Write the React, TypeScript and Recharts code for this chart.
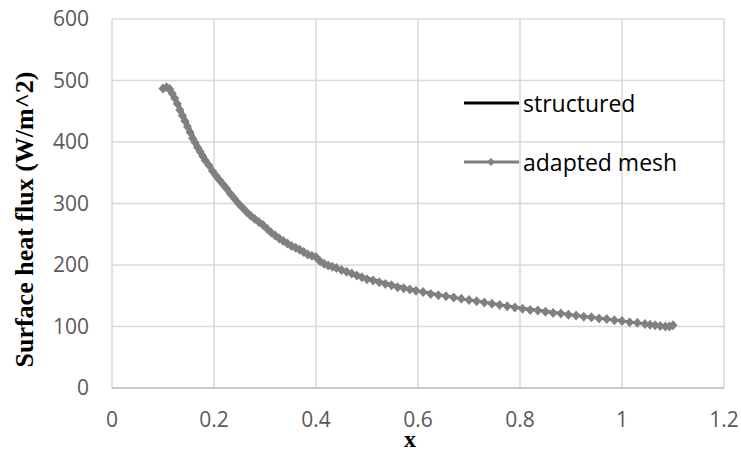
import { LineChart, Line, XAxis, YAxis, CartesianGrid } from 'recharts';

// surface heat flux along the wall, two meshes
const structuredX = [0.1, 0.11, 0.12, 0.13, 0.14, 0.15, 0.16, 0.17, 0.18, 0.19, 0.2, 0.22, 0.24, 0.26, 0.28, 0.3, 0.32, 0.34, 0.36, 0.38, 0.4, 0.42, 0.45, 0.5, 0.55, 0.6, 0.65, 0.7, 0.75, 0.8, 0.85, 0.9, 0.95, 1.0, 1.05, 1.1];
const structuredFlux = [487, 487, 479, 463, 445, 427, 409, 393, 379, 365, 352, 331, 309, 290, 275, 262, 248, 237, 227, 218, 210, 202, 192, 179, 168, 158, 150, 143, 137, 130, 125, 119, 114, 109, 104, 100];

const adaptedX = [
  0.1, 0.107, 0.113, 0.118, 0.123, 0.128, 0.133, 0.138, 0.143, 0.148, 0.153, 0.158, 0.163, 0.168, 0.173, 0.178, 0.183, 0.19, 0.197,
  0.204, 0.211, 0.218, 0.225, 0.232, 0.24, 0.248, 0.256, 0.264, 0.272, 0.28, 0.288, 0.296, 0.304, 0.312, 0.32, 0.328, 0.336, 0.344,
  0.352, 0.36, 0.368, 0.376, 0.384, 0.392, 0.4, 0.408, 0.416, 0.424, 0.432, 0.44, 0.45, 0.46, 0.47, 0.48, 0.49, 0.5, 0.512, 0.524,
  0.536, 0.548, 0.56, 0.572, 0.584, 0.596, 0.61, 0.625, 0.64, 0.655, 0.67, 0.685, 0.7, 0.715, 0.73, 0.745, 0.76, 0.775, 0.79, 0.805,
  0.82, 0.835, 0.85, 0.865, 0.88, 0.895, 0.91, 0.925, 0.94, 0.955, 0.97, 0.985, 1.0, 1.015, 1.03, 1.045, 1.055, 1.065, 1.075, 1.085,
  1.093, 1.1,
];
const adaptedFlux = [
  487, 489, 486, 479, 471, 462, 452, 443, 434, 425, 416, 406, 399, 391, 384, 377, 370, 362, 353,
  345, 338, 331, 324, 316, 308, 300, 293, 286, 280, 275, 270, 265, 259, 253, 248, 243, 239, 235,
  231, 228, 225, 221, 217, 215, 213, 206, 202, 199, 197, 195, 192, 189, 186, 183, 180, 177, 175, 172,
  169, 167, 164, 162, 160, 158, 156, 153, 151, 149, 147, 145, 143, 141, 139, 137, 135, 133, 131, 129,
  127, 126, 124, 122, 121, 119, 118, 116, 115, 113, 112, 110, 109, 107, 106, 104, 103, 102, 101, 100,
  100, 102,
];

const xTicks = [0, 0.2, 0.4, 0.6, 0.8, 1, 1.2];
const yTicks = [0, 100, 200, 300, 400, 500, 600];

const structured = structuredX.map((x, i) => ({ x, y: structuredFlux[i] }));
const adapted = adaptedX.map((x, i) => ({ x, y: adaptedFlux[i] }));

const tickStyle = { fill: '#595959', fontSize: 21, fontFamily: 'Open Sans' };
const titleStyle = { fontFamily: 'Liberation Serif', fontWeight: 'bold', fontSize: 26, fill: '#000' };

const Diamond = (props: any) => {
  const { cx, cy, index } = props;
  return <path key={`d-${index}`} d={`M${cx},${cy - 5}L${cx + 4.5},${cy}L${cx},${cy + 5}L${cx - 4.5},${cy}Z`} fill="#808080" />;
};

const YTitle = (props: any) => {
  const { viewBox } = props;
  const x = viewBox.x + 24;
  const y = viewBox.y + viewBox.height / 2 + 16;
  return (
    <text x={x} y={y} transform={`rotate(-90 ${x} ${y})`} textAnchor="middle" dominantBaseline="central" style={titleStyle}>
      Surface heat flux (W/m^2)
    </text>
  );
};

const XTitle = (props: any) => {
  const { viewBox } = props;
  const x = viewBox.x + viewBox.width / 2 - 8;
  return (
    <text x={x} y={viewBox.y + 51} textAnchor="middle" dominantBaseline="central" style={{ ...titleStyle, fontSize: 24 }}>
      x
    </text>
  );
};

export default function App() {
  return (
    <div style={{ position: 'absolute', left: 0, top: 0, width: 741, height: 451, background: '#fff' }}>
      <LineChart width={741} height={451} margin={{ top: 19, right: 17, left: 0, bottom: 0 }}>
        <CartesianGrid stroke="#d9d9d9" strokeWidth={1.5} />
        <XAxis type="number" dataKey="x" domain={[0, 1.2]} ticks={xTicks} height={63} stroke="#bfbfbf" strokeWidth={1.5}
          tickLine={false} tickSize={0} tickMargin={24} tick={tickStyle} label={<XTitle />} />
        <YAxis type="number" domain={[0, 600]} ticks={yTicks} width={112} axisLine={false} tickLine={false}
          tickSize={0} tickMargin={23} tick={tickStyle} label={<YTitle />} />
        <Line data={structured} dataKey="y" name="structured" stroke="#000" strokeWidth={2.5} dot={false} isAnimationActive={false} />
        <Line data={adapted} dataKey="y" name="adapted mesh" stroke="#808080" strokeWidth={2.5} dot={<Diamond />} isAnimationActive={false} />
      </LineChart>
      <div style={{ position: 'absolute', left: 464, top: 86, fontFamily: 'Open Sans', fontSize: 23, color: '#000', lineHeight: '34px' }}>
        <div style={{ display: 'flex', alignItems: 'center', height: 34 }}>
          <svg width={55} height={12}>
            <line x1={0} y1={6} x2={55} y2={6} stroke="#000" strokeWidth={3.2} />
          </svg>
          <span style={{ marginLeft: 4 }}>structured</span>
        </div>
        <div style={{ display: 'flex', alignItems: 'center', height: 34, marginTop: 25 }}>
          <svg width={55} height={12}>
            <line x1={0} y1={6} x2={55} y2={6} stroke="#808080" strokeWidth={3.2} />
            <path d="M27,2L31,6L27,10L23,6Z" fill="#808080" />
          </svg>
          <span style={{ marginLeft: 4 }}>adapted mesh</span>
        </div>
      </div>
    </div>
  );
}
